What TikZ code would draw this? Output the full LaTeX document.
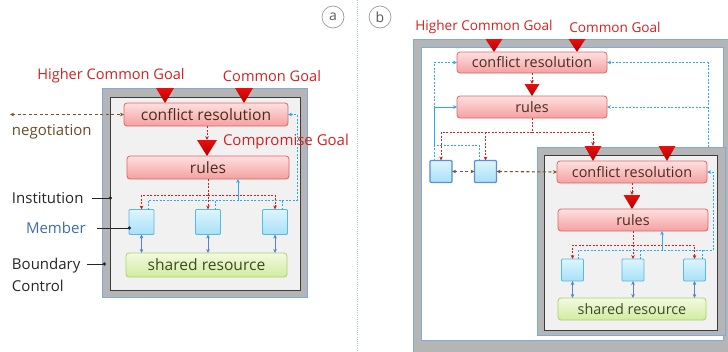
\documentclass[tikz,border=0pt]{standalone}
\usepackage{fontspec}
\setmainfont{Open Sans}
\usetikzlibrary{arrows.meta}

\definecolor{bandgray}{HTML}{B5B5B5}
\definecolor{frameblue}{HTML}{7FA9DF}
\definecolor{innerfill}{HTML}{F1F1F1}
\definecolor{innerline}{HTML}{3C3C3C}
\definecolor{redline}{HTML}{E06464}
\definecolor{redtop}{HTML}{FFE0E0}
\definecolor{redbot}{HTML}{F4A0A0}
\definecolor{boxtext}{HTML}{4A2C1E}
\definecolor{greenline}{HTML}{A6D36C}
\definecolor{greentop}{HTML}{F3FADF}
\definecolor{greenbot}{HTML}{D2EBA0}
\definecolor{greentext}{HTML}{3E4A22}
\definecolor{cyanline}{HTML}{55BCE0}
\definecolor{cyantop}{HTML}{DDF5FE}
\definecolor{cyanbot}{HTML}{A8E0F7}
\definecolor{memblue}{HTML}{5B8FD6}
\definecolor{trired}{HTML}{E80F0F}
\definecolor{trideep}{HTML}{B30000}
\definecolor{dashred}{HTML}{CC2222}
\definecolor{dashblue}{HTML}{2AAAE6}
\definecolor{dashbrown}{HTML}{7A5232}
\definecolor{duplexblue}{HTML}{5A80C8}
\definecolor{goaltext}{HTML}{D42020}
\definecolor{labelblue}{HTML}{3E6CA8}
\definecolor{labelbrown}{HTML}{6E4A2A}
\definecolor{labeldark}{HTML}{262626}
\definecolor{dividerblue}{HTML}{A8C6E8}
\definecolor{badgegray}{HTML}{9A9A9A}

\newcommand\fsBoxA{\fontsize{15.6}{18}\selectfont}
\newcommand\fsBoxB{\fontsize{14.4}{17}\selectfont}
\newcommand\fsLabA{\fontsize{15}{22}\selectfont}
\newcommand\fsGoalA{\fontsize{14.6}{17}\selectfont}
\newcommand\fsGoalB{\fontsize{13.6}{15}\selectfont}

\tikzset{
  pics/goaltri/.style args={#1/#2}{code={
    \shade[top color=trired, bottom color=trideep] (0,0) -- (-#1/2,-#2) -- (#1/2,-#2) -- cycle;}}
}

\begin{document}
\begin{tikzpicture}[x=1pt,y=-1pt,
  every node/.style={inner sep=0pt, outer sep=0pt},
  >={Stealth[length=4pt,width=3.6pt]},
  band/.style={draw=frameblue, line width=0.8pt, fill=bandgray},
  core/.style={draw=innerline, line width=0.8pt, fill=innerfill},
  field/.style={draw=frameblue, line width=0.8pt, fill=white},
  rbox/.style={draw=redline, line width=0.8pt, rounded corners=3pt,
    top color=redtop, bottom color=redbot, text=boxtext},
  gbox/.style={draw=greenline, line width=0.8pt, rounded corners=3pt,
    top color=greentop, bottom color=greenbot, text=greentext},
  memb/.style={draw=cyanline, line width=0.8pt, rounded corners=1pt,
    top color=cyantop, bottom color=cyanbot},
  membb/.style={draw=memblue, line width=1.4pt, rounded corners=1pt,
    top color=cyantop, bottom color=cyanbot},
  rdash/.style={draw=dashred, line width=0.9pt, dash pattern=on 2pt off 1.5pt},
  bdash/.style={draw=dashblue, line width=0.9pt, dash pattern=on 2pt off 1.5pt},
  bsolid/.style={draw=dashblue, line width=0.9pt},
  ndash/.style={draw=dashbrown, line width=1.1pt, dash pattern=on 3pt off 2.5pt},
  duplex/.style={draw=duplexblue, line width=1pt, <->},
  ptr/.style={draw=labeldark, line width=0.8pt, -{Circle[length=3.2pt]}},
  goal/.style={text=goaltext},
  badge/.style={circle, draw=badgegray, line width=0.7pt, minimum size=22pt,
    text=black!65, font=\fontsize{14}{16}\selectfont},
  divider/.style={draw=dividerblue, line width=0.8pt, dash pattern=on 1pt off 1.2pt}
]
\useasboundingbox (0,0) rectangle (728,351);

% ---------- panel (a): one institution ----------
\draw[band] (102,88) rectangle (307,297);
\draw[core] (110,97) rectangle (300,290);

\node[rbox, minimum width=164pt, minimum height=23pt, font=\fsBoxA] (acr) at (206,114.5) {conflict resolution};
\node[rbox, minimum width=162pt, minimum height=23pt, font=\fsBoxA] (arules) at (208,167.5) {rules};
\node[gbox, minimum width=161pt, minimum height=24pt, font=\fsBoxA] (ashared) at (206.5,265) {shared resource};
\node[memb, minimum size=25pt] (am1) at (141.5,222) {};
\node[memb, minimum size=25pt] (am2) at (208,222) {};
\node[memb, minimum size=25pt] (am3) at (275,222) {};

\node[goal, font=\fsGoalA] (ahcg) at (111,76) {Higher Common Goal};
\node[goal, font=\fsGoalA] (acg) at (272,76) {Common Goal};
\pic at (165,103) {goaltri={18/15}};
\pic at (244,103) {goaltri={18/15}};

\coordinate (amt) at (207,140);
\draw[rdash,->] (acr.south -| amt) -- (amt);
\pic at (207,156) {goaltri={20/16}};
\node[goal, anchor=west, font=\fsLabA] (acomp) at (223,142) {Compromise Goal};

% rules handed down to the members
\coordinate (arb) at (208,195);
\draw[rdash,->] (arules.south) -- (am2.north);
\draw[rdash,->] (arb) -| (am1.north);
\draw[rdash,->] (arb) -| (am3.north);

% feedback from the members
\coordinate (abr) at (297,200);
\draw[bdash,->] ([xshift=6.5pt]am1.north) |- (abr) |- (acr.east);
\draw[bdash] ([xshift=7pt]am2.north) -- ([xshift=7pt]am2.north |- abr);
\draw[bdash] ([xshift=7pt]am3.north) -- ([xshift=7pt]am3.north |- abr);
\coordinate (aup) at (238,200);
\draw[bsolid,->] (aup) -- (aup |- arules.south);

\foreach \m in {am1,am2,am3}
  \draw[duplex] (\m.south) -- (\m.south |- ashared.north);

% negotiation with the outside
\coordinate (aneg) at (10,114.5);
\draw[ndash,<->] (aneg) -- (acr.west);
\node[anchor=west, text=labelbrown, font=\fsLabA] (aneglbl) at (12,132) {negotiation};

% legend on the left
\node[anchor=west, text=labeldark, font=\fsLabA] (ainst) at (12,198) {Institution};
\coordinate (ainstp) at (112,198);
\draw[ptr] ([xshift=9pt]ainst.east) -- (ainstp);
\node[anchor=west, text=labelblue, font=\fsLabA] (amem) at (26,228) {Member};
\coordinate (amemp) at (131,228);
\draw[ptr] ([xshift=11pt]amem.east) -- (amemp);
\node[anchor=west, align=left, text=labeldark, font=\fsLabA] (abnd) at (12,274.75) {Boundary\\Control};
\coordinate (abndp) at (106,264);
\draw[ptr] ([xshift=7pt]abnd.east |- abndp) -- (abndp);

% badges and divider
\node[badge] (abadge) at (333,17) {a};
\node[badge] (bbadge) at (380,17) {b};
\coordinate (dtop) at (357,0);
\coordinate (dbot) at (357,351);
\draw[divider] (dtop) -- (dbot);

% ---------- panel (b): nested institutions ----------
\draw[band] (413,39) rectangle (733,353);
\draw[field] (421,47) rectangle (723,340);

\node[goal, font=\fsGoalB] (bhcg) at (484,27) {Higher Common Goal};
\node[goal, font=\fsGoalB] (bcg) at (615,27) {Common Goal};
\pic at (494,52) {goaltri={17/13}};
\pic at (577,52) {goaltri={17/13}};

\node[rbox, minimum width=150pt, minimum height=21pt, font=\fsBoxB] (bcr) at (532,62.5) {conflict resolution};
\node[rbox, minimum width=150pt, minimum height=22pt, font=\fsBoxB] (brules) at (532,107) {rules};
\coordinate (bmt) at (532,84);
\draw[rdash,->] (bcr.south) -- (bmt);
\pic at (532,96) {goaltri={15/12}};

\node[membb, minimum size=22pt] (bm1) at (441,171.5) {};
\node[membb, minimum size=22pt] (bm2) at (485.5,171.5) {};

% nested institution
\draw[band] (537,147) rectangle (725,335);
\draw[core] (544,155) rectangle (717,330);
\pic at (593,161) {goaltri={17/15}};
\pic at (667,161) {goaltri={17/15}};

\node[rbox, minimum width=150pt, minimum height=22pt, font=\fsBoxB] (ncr) at (632,172) {conflict resolution};
\coordinate (nmt) at (632,195);
\draw[rdash,->] (ncr.south) -- (nmt);
\pic at (632,209) {goaltri={17/14}};
\node[rbox, minimum width=150pt, minimum height=22pt, font=\fsBoxB] (nrules) at (633,220) {rules};
\node[gbox, minimum width=148pt, minimum height=22pt, font=\fsBoxB] (nshared) at (632,309) {shared resource};
\node[memb, minimum size=22pt] (nm1) at (572.5,270) {};
\node[memb, minimum size=22pt] (nm2) at (633,270) {};
\node[memb, minimum size=22pt] (nm3) at (694.5,270) {};

\coordinate (nrb) at (633,245);
\draw[rdash,->] (nrules.south) -- (nm2.north);
\draw[rdash,->] (nrb) -| (nm1.north);
\draw[rdash,->] (nrb) -| (nm3.north);

\coordinate (nbr) at (713,250);
\draw[bdash,->] ([xshift=6pt]nm1.north) |- (nbr) |- (ncr.east);
\draw[bdash] ([xshift=7pt]nm2.north) -- ([xshift=7pt]nm2.north |- nbr);
\draw[bdash] ([xshift=8pt]nm3.north) -- ([xshift=8pt]nm3.north |- nbr);
\coordinate (nup) at (662,250);
\draw[bsolid,->] (nup) -- (nup |- nrules.south);

\foreach \m in {nm1,nm2,nm3}
  \draw[duplex] (\m.south) -- (\m.south |- nshared.north);

% rules of the outer level handed down
\coordinate (brb) at (532,132);
\coordinate (bnt) at (593,146);
\draw[rdash] (brules.south) -- (brb);
\draw[rdash,->] (brb) -| (bm1.north);
\draw[rdash,->] (bm2.north |- brb) -- (bm2.north);
\draw[rdash,->] (brb) -| (bnt);

% feedback to the outer level
\coordinate (bbl) at (434,145);
\draw[bdash,->] ([xshift=-7pt]bm1.north) |- (bcr.west);
\draw[bdash] ([xshift=-6.5pt]bm2.north) |- (bbl);
\draw[bsolid,->] (bbl) |- (brules.west);
\coordinate (bbr) at (708,147);
\draw[bdash,->] (bbr) |- (bcr.east);
\draw[bdash,->] (bbr |- brules.east) -- (brules.east);

% negotiation between members and the nested institution
\draw[ndash,<->] (bm1.east) -- (bm2.west);
\draw[ndash,<->] (bm2.east) -- (ncr.west);
\end{tikzpicture}
\end{document}
